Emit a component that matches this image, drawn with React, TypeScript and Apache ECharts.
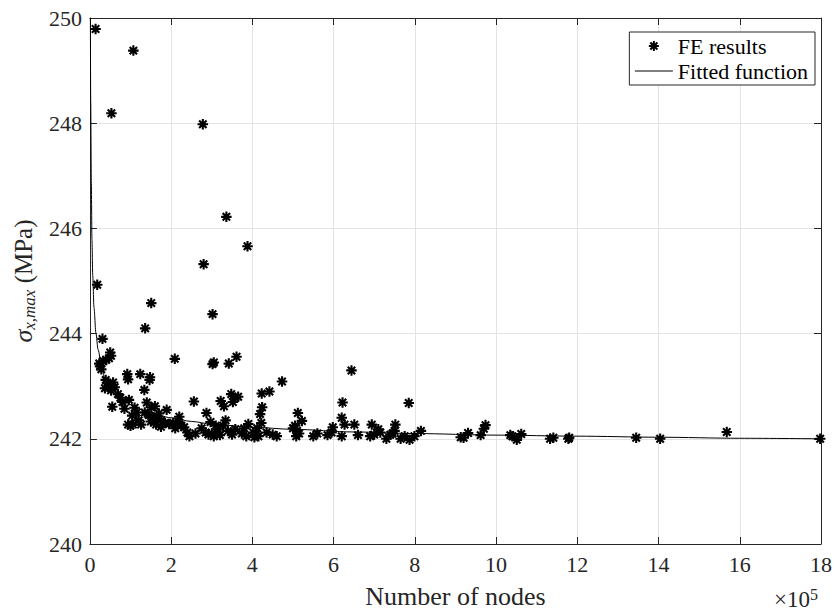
import React, { useEffect, useRef } from "react";
import * as echarts from "echarts";

// FE results: number of nodes (in units of 1e5) and max stress (MPa)
const feNodes = [
  0.14, 1.07, 0.53, 2.78, 3.36, 3.88, 2.80, 0.18, 1.51, 3.02, 1.36,
  0.31, 0.50, 0.47, 0.52, 0.33, 0.23, 0.28, 0.25, 0.40,
  0.39, 0.57, 0.47, 0.61, 0.37, 0.44, 0.52, 0.69, 0.55,
  0.92, 0.94, 1.24, 1.48, 1.47, 1.34, 0.96, 0.85, 1.10, 1.04, 1.40, 1.51, 1.60, 1.89,
  1.45, 1.55, 1.65, 1.75, 1.50, 0.94, 1.06, 1.26, 1.00, 1.63, 1.75, 1.95,
  2.09, 2.56, 2.87, 3.05, 3.02, 3.42, 3.61,
  3.22, 3.30, 3.48, 3.58, 3.65, 3.52, 4.23, 4.24, 4.19, 4.22,
  2.20, 2.18, 2.32, 2.40, 2.25, 2.97, 3.00, 3.16, 3.28, 3.34,
  3.58, 3.74, 3.90, 4.02, 4.15, 3.05, 3.20, 3.50, 3.85, 4.05,
  4.73, 4.42, 6.44, 6.22, 7.85, 5.12, 5.22, 6.20, 6.27, 6.51, 6.94,
  4.10, 4.35, 4.50, 4.60, 5.00, 5.05, 5.10, 5.15, 5.08,
  5.50, 5.60, 5.85, 5.98, 5.95, 6.20, 6.60, 6.90, 7.00, 7.10, 7.15,
  7.30, 7.40, 7.50, 7.52, 7.45, 7.65, 7.75, 7.87, 7.99, 8.15,
  9.13, 9.31, 9.62, 9.70, 9.74, 9.20, 10.35, 10.51, 10.62, 10.40,
  11.33, 11.41, 11.80, 11.78, 13.45, 14.04, 15.68, 17.98,
  1.20, 1.35, 1.70, 1.85, 2.05, 0.75, 0.80, 2.45, 2.60, 2.75, 2.85, 2.92,
  1.15, 3.10, 3.40, 3.80, 4.12, 2.10,
];
const feSigma = [
  249.79, 249.38, 248.19, 247.98, 246.22, 245.66, 245.32, 244.93, 244.58, 244.37, 244.10,
  243.90, 243.64, 243.53, 243.58, 243.48, 243.43, 243.32, 243.38, 243.50,
  243.12, 243.07, 242.99, 242.98, 242.96, 243.05, 242.92, 242.85, 242.61,
  243.23, 243.13, 243.23, 243.17, 243.12, 242.93, 242.74, 242.57, 242.59, 242.44, 242.69, 242.60, 242.62, 242.55,
  242.45, 242.40, 242.42, 242.35, 242.33, 242.27, 242.27, 242.27, 242.25, 242.27, 242.23, 242.28,
  243.52, 242.71, 242.49, 243.45, 243.42, 243.43, 243.56,
  242.72, 242.62, 242.85, 242.78, 242.80, 242.70, 242.86, 242.60, 242.47, 242.30,
  242.42, 242.32, 242.22, 242.12, 242.25, 242.32, 242.10, 242.18, 242.25, 242.35,
  242.18, 242.10, 242.28, 242.12, 242.05, 242.05, 242.07, 242.08, 242.05, 242.03,
  243.09, 242.90, 243.30, 242.69, 242.68, 242.49, 242.34, 242.40, 242.27, 242.27, 242.27,
  242.10, 242.12, 242.08, 242.05, 242.20, 242.25, 242.15, 242.10, 242.05,
  242.05, 242.10, 242.07, 242.22, 242.12, 242.05, 242.07, 242.05, 242.08, 242.18, 242.12,
  242.00, 242.08, 242.15, 242.27, 242.10, 242.00, 242.05, 241.98, 242.05, 242.15,
  242.03, 242.11, 242.07, 242.19, 242.26, 242.02, 242.07, 241.98, 242.09, 242.05,
  242.00, 242.02, 242.02, 242.00, 242.02, 242.00, 242.13, 242.00,
  242.35, 242.50, 242.48, 242.30, 242.30, 242.78, 242.70, 242.05, 242.10, 242.20, 242.12, 242.08,
  242.50, 242.25, 242.15, 242.20, 242.20, 242.20,
];

// Fitted function
const fitNodes = [
  0.012, 0.02, 0.035, 0.05, 0.07, 0.1, 0.15, 0.2, 0.3, 0.4, 0.55, 0.75, 1.0, 1.4,
  2.0, 2.5, 3.0, 4.0, 5.0, 6.5, 8.0, 10.0, 12.0, 14.0, 16.0, 18.0,
];
const fitSigma = [
  250.0, 248.4, 246.9, 245.8, 245.1, 244.5, 244.0, 243.7, 243.3, 243.05, 242.88, 242.78, 242.65, 242.52,
  242.4, 242.33, 242.28, 242.22, 242.18, 242.13, 242.1, 242.07, 242.05, 242.03, 242.01, 242.0,
];

const xRange = [0, 18];
const xStep = 2;
const yRange = [240, 250];
const yStep = 2;

const seriesNames = ["FE results", "Fitted function"];
const xAxisTitle = "Number of nodes";
const yAxisTitle = "{s|σ}{sub|x,max} (MPa)";
const xExponent = "{a|×10}{b|5}";

const FONT = "Liberation Serif";
const AXIS_COLOR = "#262626";
const GRID_COLOR = "#e3e3e3";
const ASTERISK = "path://M0,5L10,5M5,0L5,10M1.46,1.46L8.54,8.54M1.46,8.54L8.54,1.46";

export default function App() {
  const ref = useRef<HTMLDivElement>(null);

  useEffect(() => {
    if (!ref.current) return;
    const chart = echarts.init(ref.current, undefined, { renderer: "svg" });

    const feData = feNodes.map((x, i) => [x, feSigma[i]]);
    const fitData = fitNodes.map((x, i) => [x, fitSigma[i]]);

    const baseX = {
      type: "value" as const,
      min: xRange[0],
      max: xRange[1],
      interval: xStep,
    };
    const baseY = {
      type: "value" as const,
      min: yRange[0],
      max: yRange[1],
      interval: yStep,
    };

    chart.setOption({
      animation: false,
      backgroundColor: "#ffffff",
      grid: { left: 88, right: 10, top: 18, bottom: 66, containLabel: false },
      xAxis: [
        {
          ...baseX,
          position: "bottom",
          name: xAxisTitle,
          nameLocation: "middle",
          nameGap: 39,
          nameTextStyle: { fontFamily: FONT, fontSize: 26, color: AXIS_COLOR },
          axisLine: { show: true, onZero: false, lineStyle: { color: AXIS_COLOR, width: 1 } },
          axisTick: { show: true, inside: true, length: 7, lineStyle: { color: AXIS_COLOR } },
          axisLabel: { fontFamily: FONT, fontSize: 22, color: AXIS_COLOR, margin: 9 },
          splitLine: { show: true, lineStyle: { color: GRID_COLOR, width: 1 } },
        },
        {
          ...baseX,
          position: "top",
          axisLine: { show: true, onZero: false, lineStyle: { color: AXIS_COLOR, width: 1 } },
          axisTick: { show: true, inside: true, length: 7, lineStyle: { color: AXIS_COLOR } },
          axisLabel: { show: false },
          splitLine: { show: false },
        },
      ],
      yAxis: [
        {
          ...baseY,
          position: "left",
          name: yAxisTitle,
          nameLocation: "middle",
          nameGap: 44,
          nameRotate: 90,
          nameTextStyle: {
            fontFamily: FONT,
            fontSize: 25,
            color: AXIS_COLOR,
            lineHeight: 30,
            rich: {
              s: { fontFamily: FONT, fontStyle: "italic", fontSize: 26, color: AXIS_COLOR, lineHeight: 30 },
              sub: {
                fontFamily: FONT,
                fontStyle: "italic",
                fontSize: 17,
                color: AXIS_COLOR,
                lineHeight: 16,
                verticalAlign: "bottom",
              },
            },
          },
          axisLine: { show: true, onZero: false, lineStyle: { color: AXIS_COLOR, width: 1 } },
          axisTick: { show: true, inside: true, length: 7, lineStyle: { color: AXIS_COLOR } },
          axisLabel: { fontFamily: FONT, fontSize: 22, color: AXIS_COLOR, margin: 8 },
          splitLine: { show: true, lineStyle: { color: GRID_COLOR, width: 1 } },
        },
        {
          ...baseY,
          position: "right",
          axisLine: { show: true, onZero: false, lineStyle: { color: AXIS_COLOR, width: 1 } },
          axisTick: { show: true, inside: true, length: 7, lineStyle: { color: AXIS_COLOR } },
          axisLabel: { show: false },
          splitLine: { show: false },
        },
      ],
      legend: {
        orient: "vertical",
        right: 20,
        top: 32,
        padding: [3, 7, 3, 5],
        itemGap: 3,
        itemWidth: 38,
        itemHeight: 10,
        backgroundColor: "#ffffff",
        borderColor: AXIS_COLOR,
        borderWidth: 1,
        borderRadius: 0,
        textStyle: { fontFamily: FONT, fontSize: 22, color: "#000000" },
        data: [
          {
            name: seriesNames[0],
            icon: ASTERISK,
            itemStyle: { color: "#000000", borderColor: "#000000", borderWidth: 2 },
          },
          {
            name: seriesNames[1],
            itemStyle: { opacity: 0 },
            lineStyle: { color: "#000000", width: 1 },
          },
        ],
      },
      graphic: [
        {
          type: "text",
          left: 774,
          top: 586,
          style: {
            text: xExponent,
            fill: AXIS_COLOR,
            rich: {
              a: { fontFamily: FONT, fontSize: 23, fill: AXIS_COLOR, lineHeight: 26 },
              b: { fontFamily: FONT, fontSize: 16, fill: AXIS_COLOR, lineHeight: 16, verticalAlign: "top" },
            },
          },
        },
      ],
      series: [
        {
          name: seriesNames[0],
          type: "scatter",
          data: feData,
          symbol: ASTERISK,
          symbolSize: 10.5,
          symbolKeepAspect: true,
          itemStyle: { color: "#000000", borderColor: "#000000", borderWidth: 2.1, opacity: 1 },
          emphasis: { disabled: true },
          z: 2,
        },
        {
          name: seriesNames[1],
          type: "line",
          data: fitData,
          symbol: "none",
          showSymbol: false,
          smooth: 0.3,
          smoothMonotone: "x",
          itemStyle: { color: "#000000" },
          lineStyle: { color: "#000000", width: 1 },
          emphasis: { disabled: true },
          z: 3,
        },
      ],
    });

    return () => chart.dispose();
  }, []);

  return (
    <div
      ref={ref}
      style={{ position: "fixed", left: 0, top: 0, width: 835, height: 614, background: "#fff" }}
    />
  );
}
